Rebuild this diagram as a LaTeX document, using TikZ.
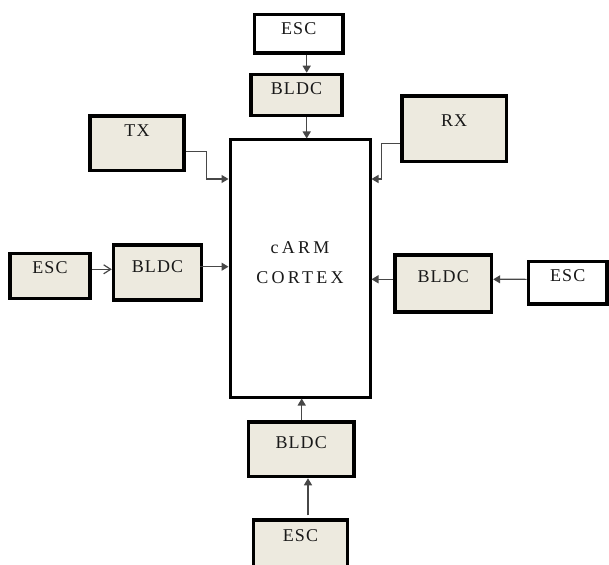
\documentclass[tikz,border=0pt]{standalone}
\usepackage{fontspec}
\newfontfamily\blkfont[LetterSpace=6]{Liberation Serif}
\newfontfamily\cpufont[LetterSpace=18]{Liberation Serif}
\usetikzlibrary{arrows.meta}

\begin{document}
\begin{tikzpicture}[
  x=1pt,y=-1pt,
  blk/.style={draw=black,line width=3.5pt,fill=beige,anchor=base,
    inner xsep=0pt,inner ysep=0pt,text=black!90,
    font=\blkfont\fontsize{18}{21}\selectfont},
  dims/.style n args={3}{minimum width=#1,text height=#2,text depth=#3},
  link/.style={-{Triangle[length=7pt,width=8pt]},line width=1.2pt,draw=black!72},
  openlink/.style={-{Straight Barb[length=7pt,width=9pt]},line width=1.2pt,draw=black!72}
]

\definecolor{beige}{RGB}{237,234,223}

\clip (0,0) rectangle (609,564);
\fill[white] (0,0) rectangle (609,564);

% controller
\node[draw=black,line width=3pt,fill=white,minimum width=140pt,minimum height=257pt,
  align=center,text depth=12pt,text=black!90,
  font=\cpufont\fontsize{18}{19}\selectfont] (cpu) at (300,268.5)
  {cARM\\[11pt]CORTEX};

% top branch
\node[blk,fill=white,dims={88.5pt}{20.5pt}{18pt}] (escT) at (298.7,35) {ESC};
\node[blk,dims={91pt}{20.5pt}{20.5pt}] (bldcT) at (296.5,95) {BLDC};

% radio
\node[blk,dims={93.7pt}{20.7pt}{34pt}] (tx) at (137,136.7) {TX};
\node[blk,dims={104.5pt}{30.7pt}{34.8pt}] (rx) at (454.2,126.7) {RX};

% left branch
\node[blk,dims={80pt}{19.8pt}{25.2pt}] (escL) at (50,273.3) {ESC};
\node[blk,dims={88pt}{27.7pt}{27.3pt}] (bldcL) at (157.5,272.7) {BLDC};

% right branch
\node[blk,dims={96.5pt}{27.7pt}{29.3pt}] (bldcR) at (443.2,282.7) {BLDC};
\node[blk,fill=white,dims={78.5pt}{19.5pt}{23pt}] (escR) at (567.7,281) {ESC};

% bottom branch
\node[blk,dims={105.5pt}{26pt}{28.5pt}] (bldcB) at (301.2,448) {BLDC};
\node[blk,dims={94pt}{21.5pt}{40pt}] (escB) at (300.5,541.5) {ESC};

\draw[link] ([xshift=8pt]escT.south) -- ([xshift=10.2pt]bldcT.north);
\draw[link] ([xshift=10.2pt]bldcT.south) -- ([xshift=6.7pt]cpu.north);

\draw[link] ([yshift=-8.4pt]tx.east) -- ++(21,0) |- ([yshift=89.5pt]cpu.west);
\draw[link] ([yshift=-14.5pt]rx.west) -- ++(-19,0) |- ([yshift=89.5pt]cpu.east);

\draw[openlink] ([yshift=6.7pt]escL.east) -- ([yshift=3.2pt]bldcL.west);
\draw[link] ([xshift=-3pt,yshift=5.8pt]bldcL.east) -- ([yshift=1.8pt]cpu.west);

\draw[link] ([yshift=3.4pt]escR.west) -- ([yshift=4.2pt]bldcR.east);
\draw[link] ([yshift=4.2pt]bldcR.west) -- ([yshift=-10.8pt]cpu.east);

\draw[link] ([xshift=7.5pt,yshift=3pt]escB.north) -- ([xshift=6.8pt]bldcB.south);
\draw[link] ([xshift=0.5pt]bldcB.north) -- ([xshift=1.7pt]cpu.south);

\end{tikzpicture}
\end{document}
